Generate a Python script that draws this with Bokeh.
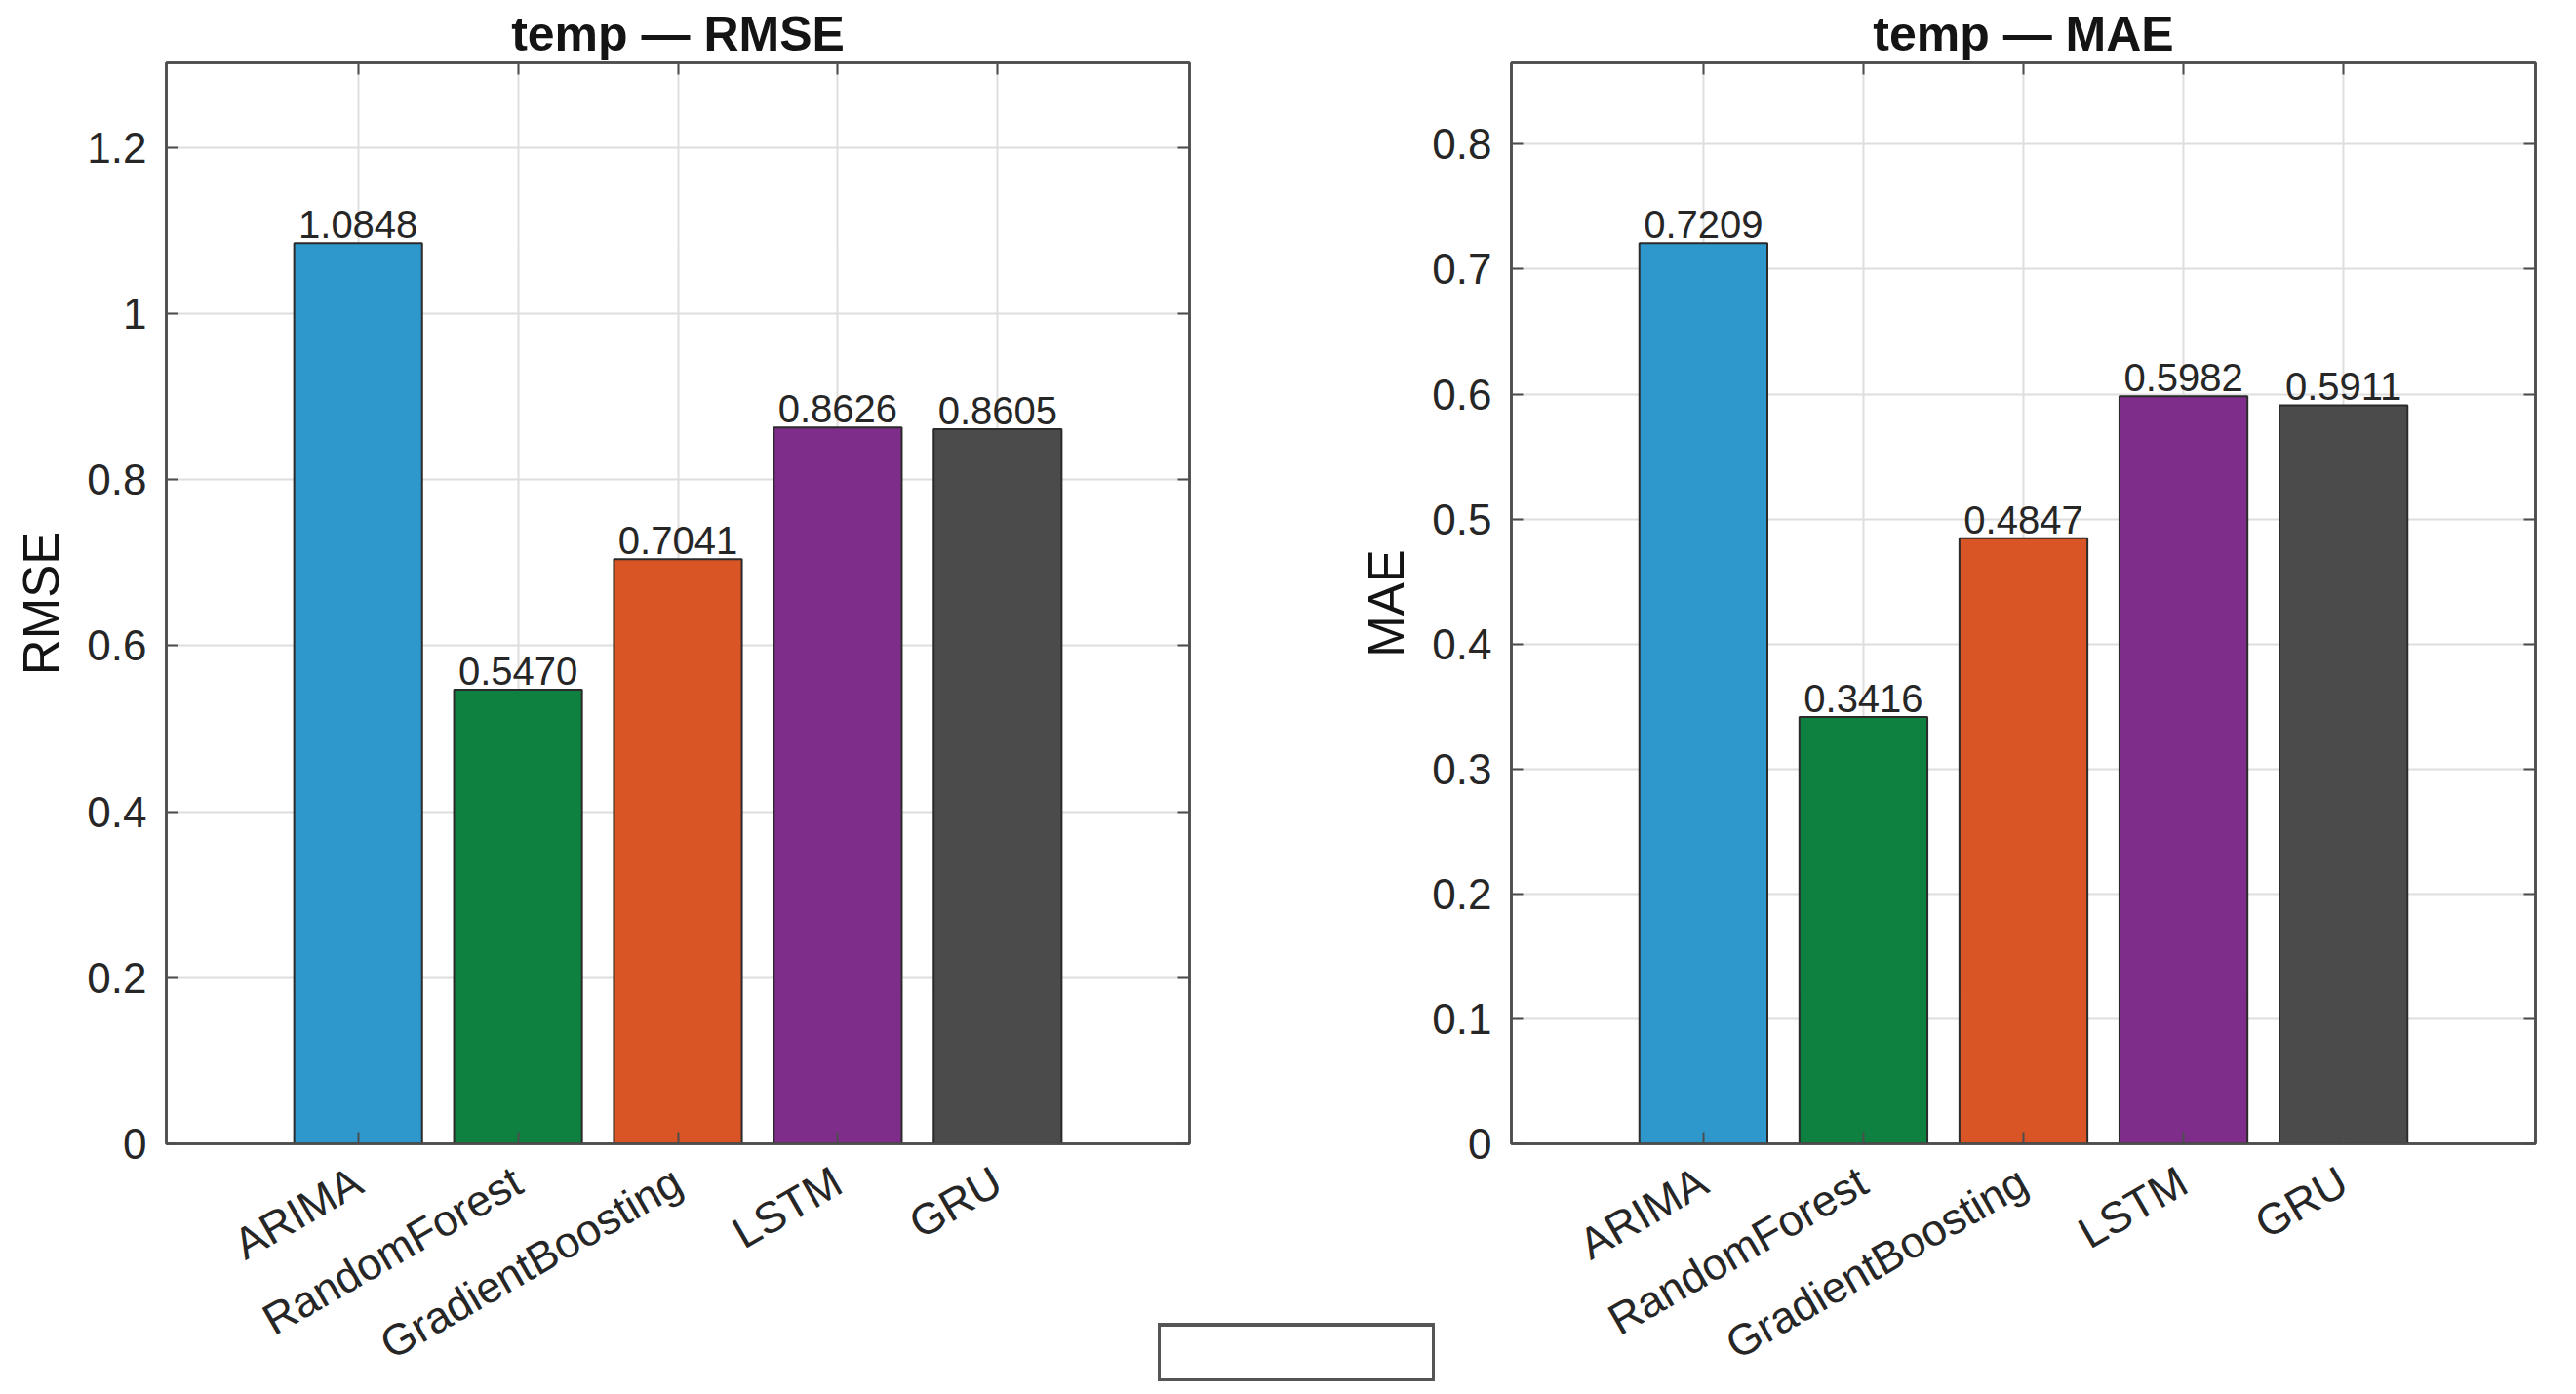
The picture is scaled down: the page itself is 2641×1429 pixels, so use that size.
import math

from bokeh.core.properties import value
from bokeh.embed import file_html
from bokeh.layouts import column, row
from bokeh.models import (ColumnDataSource, CustomJSTickFormatter, Div,
                          FixedTicker, LinearAxis, Range1d)
from bokeh.plotting import figure
from bokeh.resources import INLINE

# ---- data -----------------------------------------------------------------
models = ["ARIMA", "RandomForest", "GradientBoosting", "LSTM", "GRU"]
rmse = [1.0848, 0.5470, 0.7041, 0.8626, 0.8605]
mae = [0.7209, 0.3416, 0.4847, 0.5982, 0.5911]
bar_colors = ["#2E98CD", "#0E8040", "#DA5526", "#7E2D8B", "#4B4B4B"]

rmse_ticks = [0, 0.2, 0.4, 0.6, 0.8, 1.0, 1.2]
rmse_tick_labels = ["0", "0.2", "0.4", "0.6", "0.8", "1", "1.2"]
mae_ticks = [0, 0.1, 0.2, 0.3, 0.4, 0.5, 0.6, 0.7, 0.8]
mae_tick_labels = ["0", "0.1", "0.2", "0.3", "0.4", "0.5", "0.6", "0.7", "0.8"]

variable = "temp"

# ---- styling ----------------------------------------------------------------
FONT = "Liberation Sans"
AXIS_COLOR = "#4d4d4d"
TEXT_COLOR = "#262626"
GRID_COLOR = "#dedede"
FRAME_TOP = 64
FRAME_H = 1108
BOTTOM = 257
FIG_H = FRAME_TOP + FRAME_H + BOTTOM
BLANK = CustomJSTickFormatter(code="return ''")


def style_axis(ax, label_size="44px"):
    ax.axis_line_color = AXIS_COLOR
    ax.axis_line_width = 2.5
    ax.major_tick_line_color = AXIS_COLOR
    ax.major_tick_line_width = 2
    ax.major_tick_in = 12
    ax.major_tick_out = 0
    ax.minor_tick_line_color = None
    ax.major_label_text_font = FONT
    ax.major_label_text_font_size = label_size
    ax.major_label_text_color = TEXT_COLOR


def make_panel(metric, values, yticks, ytick_labels, border_left, border_right, frame_w):
    pos = list(range(1, len(models) + 1))
    src = ColumnDataSource(dict(
        x=pos,
        top=values,
        color=bar_colors,
        label=[f"{v:.4f}" for v in values],
    ))

    p = figure(
        frame_width=frame_w, frame_height=FRAME_H,
        min_border_left=border_left, min_border_right=border_right,
        min_border_top=FRAME_TOP, min_border_bottom=BOTTOM,
        x_range=Range1d(-0.2, len(models) + 1.2),
        y_range=Range1d(0, max(values) * 1.2),
        title=f"{variable} — {metric}",
        output_backend="svg", toolbar_location=None,
    )
    p.background_fill_color = "white"
    p.border_fill_color = None
    p.outline_line_color = AXIS_COLOR
    p.outline_line_width = 2.5

    p.title.align = "center"
    p.title.text_font = FONT
    p.title.text_font_size = "50px"
    p.title.text_font_style = "bold"
    p.title.text_color = "#141414"
    p.title.text_line_height = 0.9
    p.title.standoff = 3

    p.vbar(x="x", top="top", width=0.8, fill_color="color",
           line_color="#2b2b2b", line_width=2, source=src)
    p.text(x="x", y="top", text="label", source=src,
           text_align="center", text_baseline="bottom", y_offset=-5,
           text_font=value(FONT), text_font_size="40px", text_color=TEXT_COLOR)

    # bottom axis: model names
    xax = p.xaxis[0]
    xax.ticker = FixedTicker(ticks=pos)
    xax.major_label_overrides = {i: m for i, m in zip(pos, models)}
    xax.major_label_orientation = math.pi / 6
    xax.major_label_standoff = 35
    style_axis(xax, "45px")

    # left axis: metric values
    yax = p.yaxis[0]
    yax.ticker = FixedTicker(ticks=yticks)
    yax.major_label_overrides = {t: s for t, s in zip(yticks, ytick_labels)}
    yax.major_label_standoff = 20
    yax.axis_label = metric
    yax.axis_label_text_font = FONT
    yax.axis_label_text_font_size = "51px"
    yax.axis_label_text_font_style = "normal"
    yax.axis_label_text_color = "#141414"
    yax.axis_label_standoff = 15
    style_axis(yax)

    # mirrored tick marks on the top and right edges
    top_ax = LinearAxis(ticker=FixedTicker(ticks=pos), formatter=BLANK,
                        major_label_standoff=0)
    style_axis(top_ax, "1px")
    p.add_layout(top_ax, "above")
    right_ax = LinearAxis(ticker=FixedTicker(ticks=yticks), formatter=BLANK,
                          major_label_standoff=0)
    style_axis(right_ax, "1px")
    p.add_layout(right_ax, "right")

    p.xgrid.ticker = FixedTicker(ticks=pos)
    p.ygrid.ticker = FixedTicker(ticks=yticks)
    for g in (p.xgrid, p.ygrid):
        g.grid_line_color = GRID_COLOR
        g.grid_line_width = 2
    return p


p_rmse = make_panel("RMSE", rmse, rmse_ticks, rmse_tick_labels, 170, 160, 1049)
p_mae = make_panel("MAE", mae, mae_ticks, mae_tick_labels, 170, 42, 1050)

# empty legend frame below the panels
legend_box = Div(
    text="", width=284, height=60,
    margin=(1356 - FIG_H, 0, 0, 1187),
    styles={
        "box-sizing": "border-box",
        "border-top": "4px solid #555555",
        "border-left": "3px solid #555555",
        "border-right": "3px solid #555555",
        "border-bottom": "3px solid #555555",
        "background-color": "white",
        "position": "relative",
        "z-index": "5",
    },
)

layout = column(row(p_rmse, p_mae), legend_box)

open("out.html", "w").write(file_html(layout, INLINE))
